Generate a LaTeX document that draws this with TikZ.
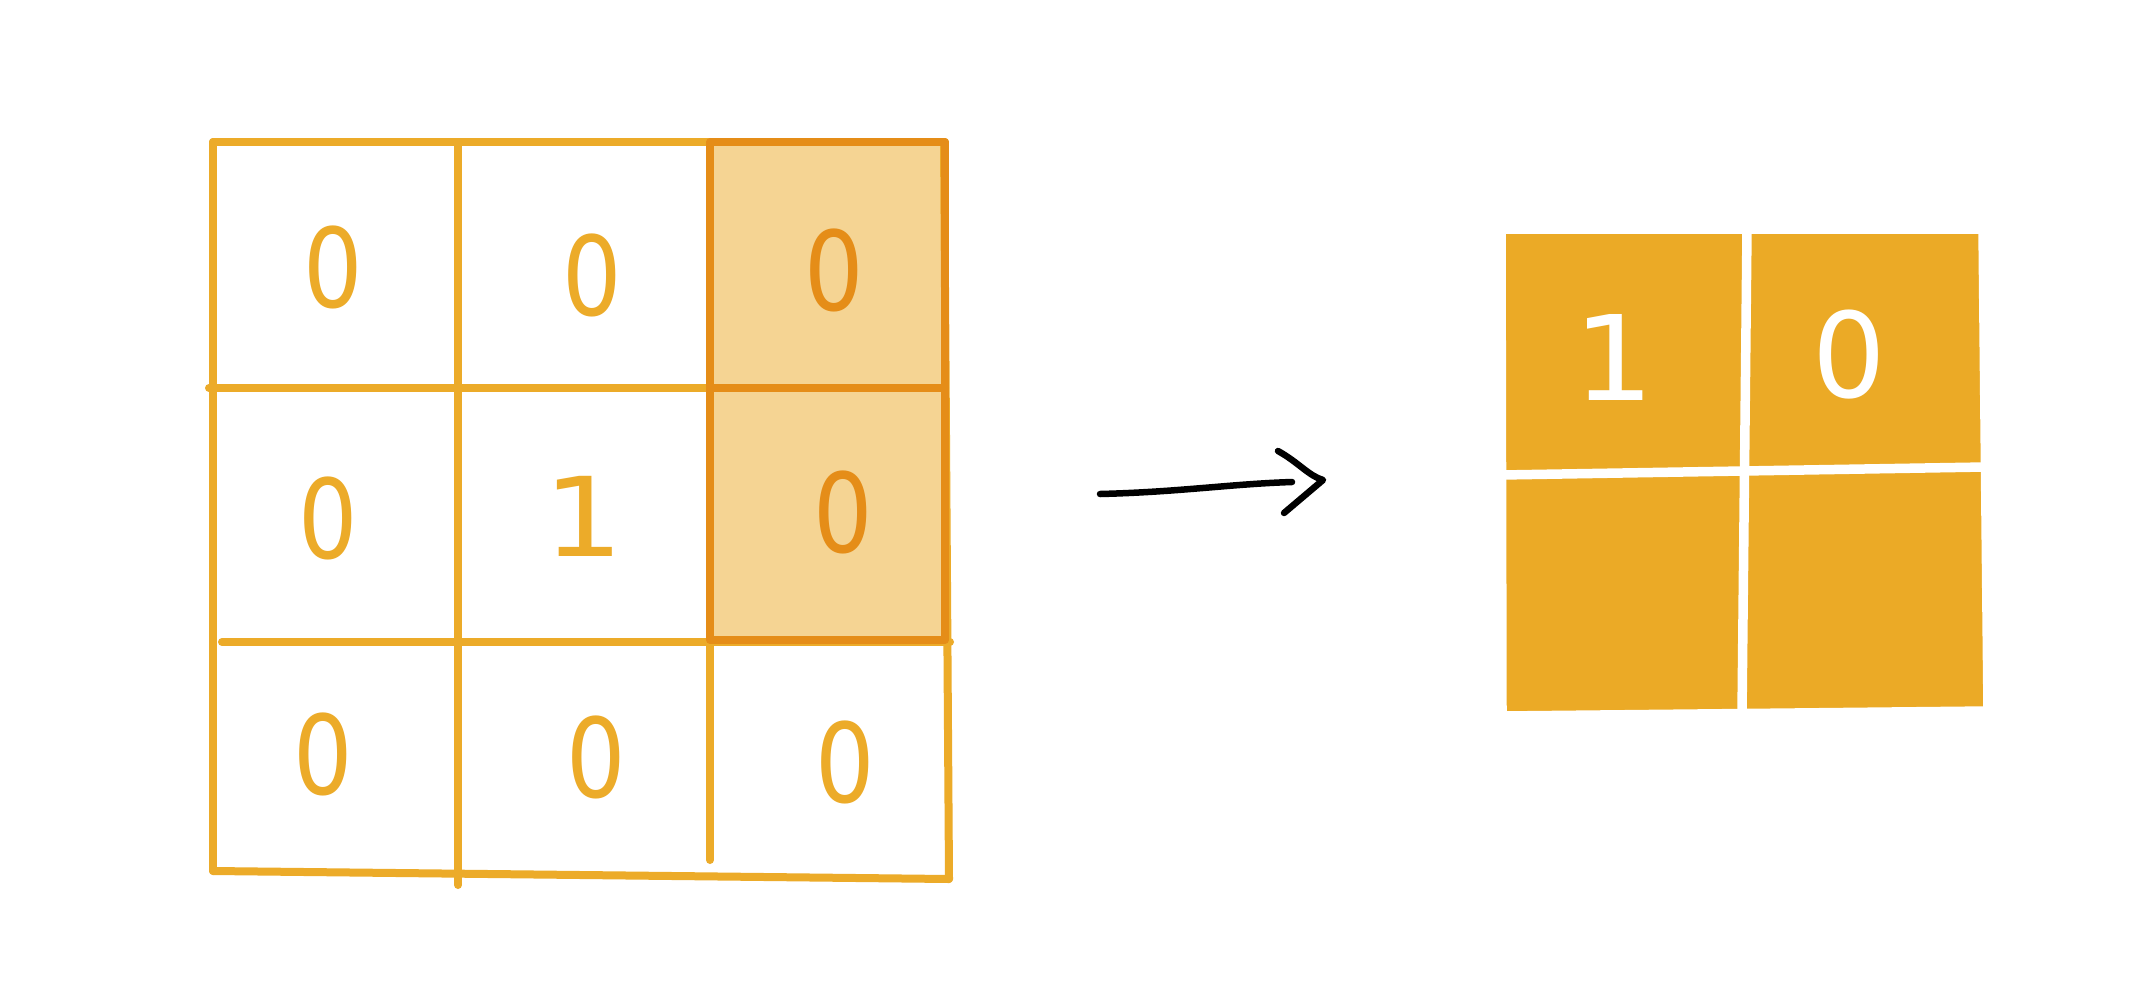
\documentclass[tikz,border=0pt]{standalone}
\usepackage{fontspec}
\setmainfont{DejaVu Sans}
\definecolor{gridor}{HTML}{ECAB29}
\definecolor{darkor}{HTML}{E58D18}
\definecolor{lightor}{HTML}{F5D493}
\definecolor{fillor}{HTML}{EBAA26}
\begin{document}
\begin{tikzpicture}[x=1pt,y=-1pt,line cap=round,line join=round,
  gline/.style={draw=gridor,line width=8pt},
  hline/.style={draw=darkor,line width=8pt},
  wline/.style={draw=white,line width=9.5pt},
  ldigit/.style={text=gridor,inner sep=0pt,font=\fontsize{110}{110}\selectfont},
  hdigit/.style={ldigit,text=darkor},
  rdigit/.style={text=white,inner sep=0pt,font=\fontsize{118}{118}\selectfont},
  arrowline/.style={draw=black,line width=6.5pt}]
\useasboundingbox[fill=white] (0,0) rectangle (2154,999);
% ---- left 3x3 grid ----
\fill[lightor] (710,142) rectangle (945,640);
\draw[gline] (213,142) -- (945,142);
\draw[gline] (213,142) -- (213,871);
\draw[gline] (458,142) -- (458,885);
\draw[gline] (710,142) -- (710,860);
\draw[gline] (944,142) -- (949,879);
\draw[gline] (209,388) -- (940,388);
\draw[gline] (222,642) -- (950,642);
\draw[gline] (213,871) -- (949,879);
\draw[hline] (710,142) rectangle (945,640);
\draw[hline] (710,388) -- (945,388);
\node[ldigit] (c11) at (333,267) {\scalebox{0.85}[1]{0}};
\node[ldigit] (c12) at (592,275) {\scalebox{0.85}[1]{0}};
\node[hdigit] (c13) at (834,270) {\scalebox{0.85}[1]{0}};
\node[ldigit] (c21) at (328,518) {\scalebox{0.85}[1]{0}};
\node[ldigit] (c22) at (584,516) {\scalebox{1.15}[1]{1}};
\node[hdigit] (c23) at (843,512) {\scalebox{0.85}[1]{0}};
\node[ldigit] (c31) at (323,754) {\scalebox{0.85}[1]{0}};
\node[ldigit] (c32) at (596,757) {\scalebox{0.85}[1]{0}};
\node[ldigit] (c33) at (845,762) {\scalebox{0.85}[1]{0}};
% ---- arrow ----
\coordinate (astart) at (1100,494);
\coordinate (aend) at (1292,482);
\coordinate (atip) at (1323,480);
\draw[arrowline] (astart) .. controls (1180,492) and (1230,484) .. (aend);
\draw[arrowline] ([shift={(-45,-29)}]atip) .. controls ([shift={(-25,-18)}]atip) and ([shift={(-14,-4)}]atip) .. (atip) -- ([shift={(-39,33)}]atip);
% ---- right 2x2 grid ----
\fill[fillor] (1500,229) rectangle (1986,714);
\draw[wline] (1501,229) -- (1983,229) -- (1988,711) -- (1502,716) -- cycle;
\draw[wline] (1747,229) -- (1742,714);
\draw[wline] (1501,475) -- (1985,467);
\node[rdigit] (r11) at (1614,357) {\scalebox{1.08}[1]{1}};
\node[rdigit] (r12) at (1849,355) {\scalebox{0.98}[1]{0}};
\end{tikzpicture}
\end{document}
